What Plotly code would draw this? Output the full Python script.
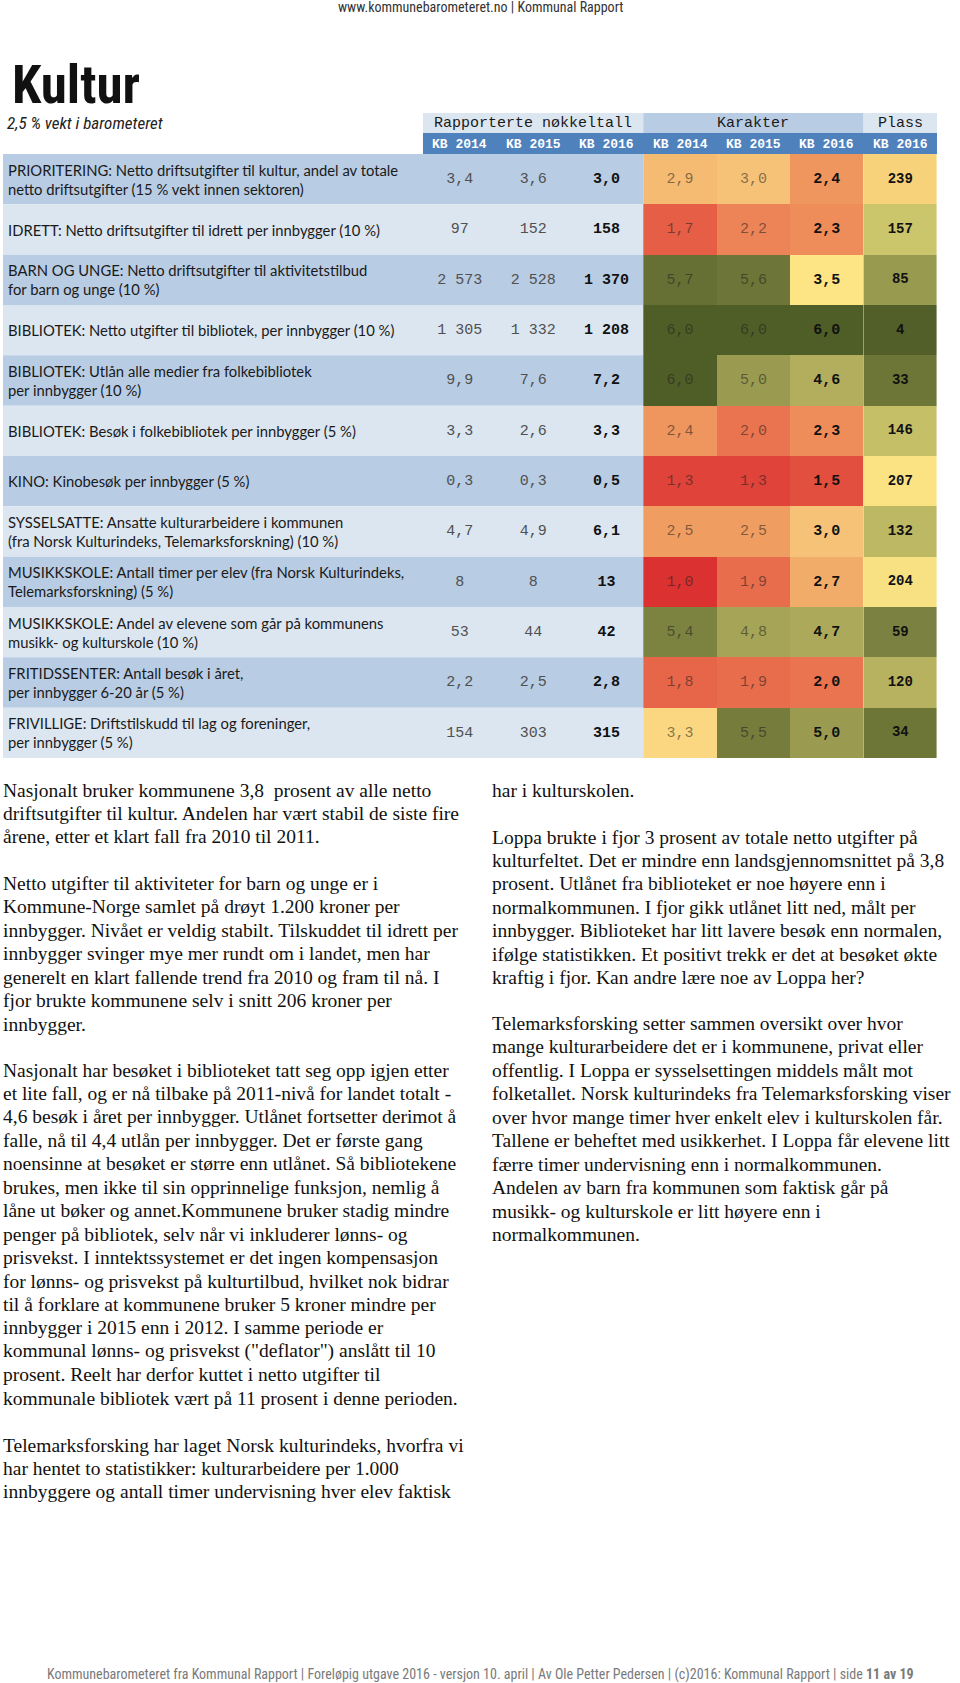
import plotly.graph_objects as go

# ---------------- data ----------------
indicators = [
    "PRIORITERING: Netto driftsutgifter til kultur, andel av totale<br>netto driftsutgifter (15 % vekt innen sektoren)",
    "IDRETT: Netto driftsutgifter til idrett per innbygger (10 %)",
    "BARN OG UNGE: Netto driftsutgifter til aktivitetstilbud<br>for barn og unge (10 %)",
    "BIBLIOTEK: Netto utgifter til bibliotek, per innbygger (10 %)",
    "BIBLIOTEK: Utlån alle medier fra folkebibliotek<br>per innbygger (10 %)",
    "BIBLIOTEK: Besøk i folkebibliotek per innbygger (5 %)",
    "KINO: Kinobesøk per innbygger (5 %)",
    "SYSSELSATTE: Ansatte kulturarbeidere i kommunen<br>(fra Norsk Kulturindeks, Telemarksforskning) (10 %)",
    "MUSIKKSKOLE: Antall timer per elev (fra Norsk Kulturindeks,<br>Telemarksforskning) (5 %)",
    "MUSIKKSKOLE: Andel av elevene som går på kommunens<br>musikk- og kulturskole (10 %)",
    "FRITIDSSENTER: Antall besøk i året,<br>per innbygger 6-20 år (5 %)",
    "FRIVILLIGE: Driftstilskudd til lag og foreninger,<br>per innbygger (5 %)",
]
decimals = [1, 0, 0, 0, 1, 1, 1, 1, 0, 0, 1, 0]
nokkel_2014 = [3.4, 97, 2573, 1305, 9.9, 3.3, 0.3, 4.7, 8, 53, 2.2, 154]
nokkel_2015 = [3.6, 152, 2528, 1332, 7.6, 2.6, 0.3, 4.9, 8, 44, 2.5, 303]
nokkel_2016 = [3.0, 158, 1370, 1208, 7.2, 3.3, 0.5, 6.1, 13, 42, 2.8, 315]
karakter_2014 = [2.9, 1.7, 5.7, 6.0, 6.0, 2.4, 1.3, 2.5, 1.0, 5.4, 1.8, 3.3]
karakter_2015 = [3.0, 2.2, 5.6, 6.0, 5.0, 2.0, 1.3, 2.5, 1.9, 4.8, 1.9, 5.5]
karakter_2016 = [2.4, 2.3, 3.5, 6.0, 4.6, 2.3, 1.5, 3.0, 2.7, 4.7, 2.0, 5.0]
plass_2016 = [239, 157, 85, 4, 33, 146, 207, 132, 204, 59, 120, 34]
n_kommuner = 428
col_labels = ["KB 2014", "KB 2015", "KB 2016", "KB 2014", "KB 2015", "KB 2016", "KB 2016"]
group_labels = ["Rapporterte nøkkeltall", "Karakter", "Plass"]

paragraphs_left = [
    ["Nasjonalt bruker kommunene 3,8  prosent av alle netto",
     "driftsutgifter til kultur. Andelen har vært stabil de siste fire",
     "årene, etter et klart fall fra 2010 til 2011."],
    ["Netto utgifter til aktiviteter for barn og unge er i",
     "Kommune-Norge samlet på drøyt 1.200 kroner per",
     "innbygger. Nivået er veldig stabilt. Tilskuddet til idrett per",
     "innbygger svinger mye mer rundt om i landet, men har",
     "generelt en klart fallende trend fra 2010 og fram til nå. I",
     "fjor brukte kommunene selv i snitt 206 kroner per",
     "innbygger."],
    ["Nasjonalt har besøket i biblioteket tatt seg opp igjen etter",
     "et lite fall, og er nå tilbake på 2011-nivå for landet totalt -",
     "4,6 besøk i året per innbygger. Utlånet fortsetter derimot å",
     "falle, nå til 4,4 utlån per innbygger. Det er første gang",
     "noensinne at besøket er større enn utlånet. Så bibliotekene",
     "brukes, men ikke til sin opprinnelige funksjon, nemlig å",
     "låne ut bøker og annet.Kommunene bruker stadig mindre",
     "penger på bibliotek, selv når vi inkluderer lønns- og",
     "prisvekst. I inntektssystemet er det ingen kompensasjon",
     "for lønns- og prisvekst på kulturtilbud, hvilket nok bidrar",
     "til å forklare at kommunene bruker 5 kroner mindre per",
     "innbygger i 2015 enn i 2012. I samme periode er",
     "kommunal lønns- og prisvekst (\"deflator\") anslått til 10",
     "prosent. Reelt har derfor kuttet i netto utgifter til",
     "kommunale bibliotek vært på 11 prosent i denne perioden."],
    ["Telemarksforsking har laget Norsk kulturindeks, hvorfra vi",
     "har hentet to statistikker: kulturarbeidere per 1.000",
     "innbyggere og antall timer undervisning hver elev faktisk"],
]
paragraphs_right = [
    ["har i kulturskolen."],
    ["Loppa brukte i fjor 3 prosent av totale netto utgifter på",
     "kulturfeltet. Det er mindre enn landsgjennomsnittet på 3,8",
     "prosent. Utlånet fra biblioteket er noe høyere enn i",
     "normalkommunen. I fjor gikk utlånet litt ned, målt per",
     "innbygger. Biblioteket har litt lavere besøk enn normalen,",
     "ifølge statistikken. Et positivt trekk er det at besøket økte",
     "kraftig i fjor. Kan andre lære noe av Loppa her?"],
    ["Telemarksforsking setter sammen oversikt over hvor",
     "mange kulturarbeidere det er i kommunene, privat eller",
     "offentlig. I Loppa er sysselsettingen middels målt mot",
     "folketallet. Norsk kulturindeks fra Telemarksforsking viser",
     "over hvor mange timer hver enkelt elev i kulturskolen får.",
     "Tallene er beheftet med usikkerhet. I Loppa får elevene litt",
     "færre timer undervisning enn i normalkommunen.",
     "Andelen av barn fra kommunen som faktisk går på",
     "musikk- og kulturskole er litt høyere enn i",
     "normalkommunen."],
]

# ---------------- layout geometry (page pixel coordinates) ----------------
W, H = 960, 1683
TABLE_L, COL_W = 423.0, 73.43
ROW_TOP, ROW_H = 154.0, 50.33
n = len(indicators)
col_c = [TABLE_L + COL_W * (j + 0.5) for j in range(7)]
row_c = [ROW_TOP + ROW_H * (i + 0.5) for i in range(n)]

def fmt(v, d):
    if d == 0:
        s = f"{int(round(v)):,}".replace(",", " ")
    else:
        s = f"{v:.{d}f}".replace(".", ",")
    return s

grade_scale = [
    [0.0, "#db3131"], [0.1, "#e24f3e"], [0.2, "#ea7450"], [0.3, "#f09d61"],
    [0.4, "#f6c278"], [0.5, "#fde585"], [0.72, "#b2ae5d"], [0.8, "#9a9b51"],
    [0.9, "#757c3c"], [1.0, "#4f5d27"],
]
rank_scale = [
    [0.0, "#4f5d27"], [0.075, "#6d7637"], [0.136, "#7b8241"], [0.197, "#989a50"],
    [0.279, "#b6b25f"], [0.365, "#cbc56c"], [0.482, "#fbe384"], [0.557, "#f8d27a"],
    [0.75, "#ed8254"], [1.0, "#db3131"],
]

fig = go.Figure()

shapes = []
for i in range(n):
    col = "#b8cce4" if i % 2 == 0 else "#dce6f1"
    shapes.append(dict(type="rect", xref="x", yref="y", x0=3, x1=col_c[3] - COL_W / 2,
                       y0=ROW_TOP + ROW_H * i, y1=ROW_TOP + ROW_H * (i + 1),
                       fillcolor=col, line=dict(width=0), layer="below"))
hdr_top, hdr_mid, hdr_bot = 113, 133, ROW_TOP
shapes.append(dict(type="rect", xref="x", yref="y", x0=TABLE_L, x1=TABLE_L + 3 * COL_W,
                   y0=hdr_top, y1=hdr_mid, fillcolor="#dce6f1", line=dict(width=0), layer="below"))
shapes.append(dict(type="rect", xref="x", yref="y", x0=TABLE_L + 3 * COL_W, x1=TABLE_L + 6 * COL_W,
                   y0=hdr_top, y1=hdr_mid, fillcolor="#b8cce4", line=dict(width=0), layer="below"))
shapes.append(dict(type="rect", xref="x", yref="y", x0=TABLE_L + 6 * COL_W, x1=TABLE_L + 7 * COL_W,
                   y0=hdr_top, y1=hdr_mid, fillcolor="#dce6f1", line=dict(width=0), layer="below"))
shapes.append(dict(type="rect", xref="x", yref="y", x0=TABLE_L, x1=TABLE_L + 7 * COL_W,
                   y0=hdr_mid, y1=hdr_bot, fillcolor="#4f81bd", line=dict(width=0), layer="below"))

z_grade = [[karakter_2014[i], karakter_2015[i], karakter_2016[i]] for i in range(n)]
fig.add_trace(go.Heatmap(z=z_grade, x0=col_c[3], dx=COL_W, y0=row_c[0], dy=ROW_H,
                         zmin=1, zmax=6, colorscale=grade_scale, showscale=False,
                         hoverinfo="skip", xgap=0, ygap=0))
z_rank = [[plass_2016[i]] for i in range(n)]
fig.add_trace(go.Heatmap(z=z_rank, x0=col_c[6], dx=COL_W, y0=row_c[0], dy=ROW_H,
                         zmin=1, zmax=n_kommuner, colorscale=rank_scale, showscale=False,
                         hoverinfo="skip", xgap=0, ygap=0))

MONO = "Liberation Mono, Courier New, monospace"

def text_trace(xc, vals, color, bold, size=15):
    fig.add_trace(go.Scatter(
        x=[xc] * len(vals), y=row_c, mode="text", text=vals,
        textposition="middle center", hoverinfo="skip", showlegend=False,
        textfont=dict(family=MONO, size=size, color=color, weight="bold" if bold else "normal")))

text_trace(col_c[0], [fmt(v, d) for v, d in zip(nokkel_2014, decimals)], "#505050", False)
text_trace(col_c[1], [fmt(v, d) for v, d in zip(nokkel_2015, decimals)], "#505050", False)
text_trace(col_c[2], [fmt(v, d) for v, d in zip(nokkel_2016, decimals)], "#111111", True)
text_trace(col_c[3], [fmt(v, 1) for v in karakter_2014], "rgba(30,30,30,0.55)", False)
text_trace(col_c[4], [fmt(v, 1) for v in karakter_2015], "rgba(30,30,30,0.55)", False)
text_trace(col_c[5], [fmt(v, 1) for v in karakter_2016], "#111111", True)
text_trace(col_c[6], [str(v) for v in plass_2016], "#111111", True, size=14)

ann = []
grp_x = [TABLE_L + 1.5 * COL_W, TABLE_L + 4.5 * COL_W, TABLE_L + 6.5 * COL_W]
for gx, gl in zip(grp_x, group_labels):
    ann.append(dict(x=gx, y=(hdr_top + hdr_mid) / 2 + 0.5, text=gl, showarrow=False,
                    xanchor="center", yanchor="middle",
                    font=dict(family=MONO, size=15, color="#1a1a1a")))
for xc, cl in zip(col_c, col_labels):
    ann.append(dict(x=xc, y=(hdr_mid + hdr_bot) / 2 + 0.5, text=cl, showarrow=False,
                    xanchor="center", yanchor="middle",
                    font=dict(family=MONO, size=13, color="#ffffff", weight="bold")))
for i, lab in enumerate(indicators):
    ann.append(dict(x=6, y=row_c[i], text=lab, showarrow=False, xanchor="left", yanchor="middle",
                    align="left", font=dict(family="Lato, Open Sans, sans-serif", size=14.8, color="#1a1a1a")))

NARROW = "Liberation Sans Narrow, Roboto Condensed, Open Sans, sans-serif"
ann.append(dict(x=480, y=7, text="www.kommunebarometeret.no | Kommunal Rapport", showarrow=False,
                xanchor="center", yanchor="middle",
                font=dict(family=NARROW, size=14, color="#333333")))
ann.append(dict(x=10, y=85, text="<b>Kultur</b>", showarrow=False, xanchor="left", yanchor="middle",
                height=52, valign="middle",
                font=dict(family="Liberation Sans Narrow, Roboto Condensed, Roboto, sans-serif", size=53, color="#111111")))
ann.append(dict(x=5, y=123, text="<i>2,5 % vekt i barometeret</i>", showarrow=False, xanchor="left", yanchor="middle",
                font=dict(family=NARROW, size=17, color="#222222")))

SERIF = "Liberation Serif, DejaVu Serif, serif"
LH = 23.45
def add_paras(paras, x, starts):
    for para, y0 in zip(paras, starts):
        for k, line in enumerate(para):
            ann.append(dict(x=x, y=y0 + k * LH, text=line, showarrow=False, xanchor="left",
                            yanchor="middle", align="left",
                            font=dict(family=SERIF, size=19.5, color="#111111")))

add_paras(paragraphs_left, 1, [790, 883.5, 1070, 1445])
add_paras(paragraphs_right, 490, [790, 837, 1023.5])

ann.append(dict(x=480, y=1674,
                text="Kommunebarometeret fra Kommunal Rapport | Foreløpig utgave 2016 - versjon 10. april | Av Ole Petter Pedersen | (c)2016: Kommunal Rapport | side <b>11 av 19</b>",
                showarrow=False, xanchor="center", yanchor="middle",
                font=dict(family=NARROW, size=14, color="#7a7a7a")))

fig.update_layout(
    width=W, height=H, margin=dict(l=0, r=0, t=0, b=0),
    paper_bgcolor="white", plot_bgcolor="white",
    xaxis=dict(range=[0, W], visible=False, fixedrange=True),
    yaxis=dict(range=[H, 0], visible=False, fixedrange=True),
    shapes=shapes, annotations=ann, showlegend=False,
)

fig.write_html("out.html", config={"displayModeBar": False},
               post_script="document.body.style.margin='0px';document.body.style.overflow='hidden';")
